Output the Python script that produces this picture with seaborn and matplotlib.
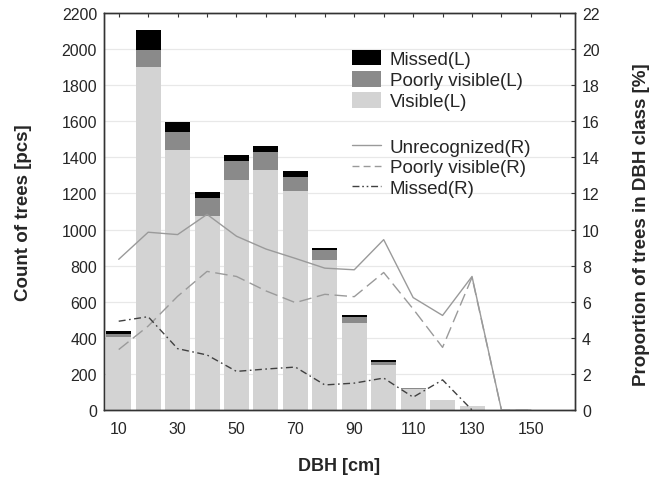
import matplotlib
matplotlib.use("Agg")
import matplotlib.pyplot as plt
import seaborn as sns
import pandas as pd
from matplotlib.patches import Patch
from matplotlib.lines import Line2D

# ---- data ----
dbh_bars = [10, 20, 30, 40, 50, 60, 70, 80, 90, 100, 110, 120, 130]
visible_L = [405, 1900, 1440, 1075, 1276, 1332, 1211, 830, 483, 248, 118, 56, 25]
poorly_L = [15, 95, 100, 97, 106, 96, 82, 57, 32, 18, 5, 0, 0]
missed_L = [20, 110, 55, 37, 31, 34, 33, 13, 11, 9, 1, 0, 0]

dbh_lines = [10, 20, 30, 40, 50, 60, 70, 80, 90, 100, 110, 120, 130, 140, 150]
unrecognized_R = [8.35, 9.85, 9.72, 10.84, 9.63, 8.92, 8.4, 7.86, 7.77, 9.44, 6.23, 5.24, 7.4, 0, 0]
poorly_R = [3.35, 4.65, 6.3, 7.68, 7.4, 6.6, 5.95, 6.41, 6.28, 7.62, 5.6, 3.47, 7.35, 0, 0]
dbh_missed = [10, 20, 30, 40, 50, 60, 70, 80, 90, 100, 110, 120, 130]
missed_R = [4.92, 5.17, 3.4, 3.05, 2.14, 2.27, 2.38, 1.39, 1.49, 1.77, 0.71, 1.67, 0.0]

x_ticks = list(range(10, 170, 10))
x_labels = [str(v) if (v // 10) % 2 == 1 else "" for v in x_ticks]

# ---- style ----
sns.set_style("white")
plt.rcParams["font.family"] = ["Liberation Sans", "DejaVu Sans"]

C_VIS = "#d3d3d3"
C_POOR = "#8a8a8a"
C_MISS = "#000000"

fig = plt.figure(figsize=(6.52, 4.81), dpi=100)
ax = fig.add_axes([0.1595, 0.1455, 0.7225, 0.8255])

df = pd.DataFrame({
    "dbh": dbh_bars,
    "vis": visible_L,
    "poor": [v + p for v, p in zip(visible_L, poorly_L)],
    "tot": [v + p + m for v, p, m in zip(visible_L, poorly_L, missed_L)],
})

for col, c in [("tot", C_MISS), ("poor", C_POOR), ("vis", C_VIS)]:
    sns.barplot(data=df, x="dbh", y=col, native_scale=True, width=0.85,
                color=c, saturation=1, errorbar=None, linewidth=0, ax=ax)

ax.set_xlim(5, 165)
ax.set_ylim(0, 2200)
ax.set_yticks(range(0, 2201, 200))
ax.set_xticks(x_ticks)
ax.set_xticklabels(x_labels)
ax.yaxis.grid(True, color="#e8e8e8", linewidth=0.9)
ax.xaxis.grid(False)
ax.set_axisbelow(True)
ax.tick_params(axis="x", direction="in", length=3, top=True, labelsize=11.5,
               pad=8, color="#333333")
ax.tick_params(axis="y", direction="in", length=0, labelsize=11.5, pad=5)
ax.set_xlabel("DBH [cm]", fontsize=13, fontweight="bold", labelpad=15)
ax.set_ylabel("Count of trees [pcs]", fontsize=13.5, fontweight="bold", labelpad=21)
for s in ax.spines.values():
    s.set_color("#333333")
    s.set_linewidth(1.0)

ax2 = ax.twinx()
sns.lineplot(x=dbh_lines, y=unrecognized_R, ax=ax2, color="#9a9a9a",
             linewidth=1.0, linestyle="-")
sns.lineplot(x=dbh_lines, y=poorly_R, ax=ax2, color="#9a9a9a",
             linewidth=1.0, linestyle=(0, (9, 4)))
sns.lineplot(x=dbh_missed, y=missed_R, ax=ax2, color="#404040",
             linewidth=1.0, linestyle=(0, (5, 2.5, 1.2, 2.5)))
ax2.set_ylim(0, 22)
ax2.set_yticks(range(0, 23, 2))
ax2.tick_params(axis="y", direction="in", length=3, labelsize=11.5, pad=5,
                color="#333333")
ax2.set_ylabel("Proportion of trees in DBH class [%]", fontsize=13.5,
               fontweight="bold")
ax2.yaxis.set_label_coords(1.122, 0.469)
ax2.set_xlim(5, 165)
for s in ax2.spines.values():
    s.set_color("#333333")
    s.set_linewidth(1.0)

h1 = [Patch(facecolor=C_MISS, edgecolor="none", label="Missed(L)"),
      Patch(facecolor=C_POOR, edgecolor="none", label="Poorly visible(L)"),
      Patch(facecolor=C_VIS, edgecolor="none", label="Visible(L)")]
leg1 = ax2.legend(handles=h1, loc="upper left", bbox_to_anchor=(0.526, 0.907),
                  frameon=False, fontsize=13.5, borderpad=0, borderaxespad=0,
                  handlelength=1.55, handleheight=0.9, handletextpad=0.48,
                  labelspacing=0.15)
ax2.add_artist(leg1)
h2 = [Line2D([], [], color="#9a9a9a", lw=1.0, ls="-", label="Unrecognized(R)"),
      Line2D([], [], color="#9a9a9a", lw=1.0, ls=(0, (5, 3)), label="Poorly visible(R)"),
      Line2D([], [], color="#404040", lw=1.0, ls=(0, (5, 2, 1.2, 2, 1.2, 2)), label="Missed(R)")]
ax2.legend(handles=h2, loc="upper left", bbox_to_anchor=(0.526, 0.683),
           frameon=False, fontsize=13.5, borderpad=0, borderaxespad=0,
           handlelength=1.55, handletextpad=0.48, labelspacing=0.18)

fig.savefig("out.png", dpi=100)
